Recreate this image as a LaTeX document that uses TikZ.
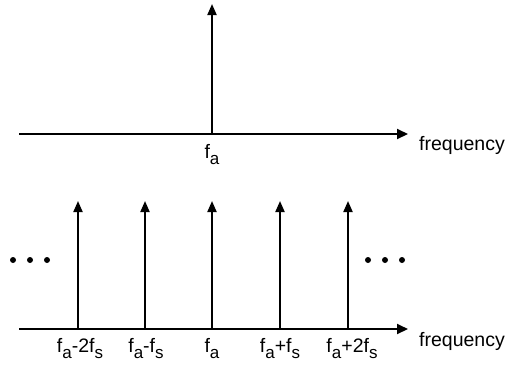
\documentclass[tikz,border=0pt]{standalone}
\usepackage{fontspec}
\setmainfont{Liberation Sans}
\usetikzlibrary{arrows.meta}
\newcommand{\lowsub}[1]{\raisebox{-0.32em}{\fontsize{17}{17}\selectfont #1}}
\tikzset{
  axis/.style={line width=2pt,-{Triangle[length=11pt,width=10pt]}},
  spike/.style={line width=2pt,-{Triangle[length=11pt,width=9pt]}},
  lbl/.style={font=\fontsize{19.5}{19.5}\selectfont,inner sep=0pt},
  dotc/.style={circle,fill=black,inner sep=0pt,minimum size=6pt}
}
\begin{document}
\begin{tikzpicture}[x=1pt,y=-1pt]
\useasboundingbox (0,0) rectangle (508,365);
% top
\coordinate (t0) at (19,134);
\coordinate (t1) at (408,134);
\coordinate (tb) at (212,134);
\coordinate (tt) at (212,4);
\draw[axis] (t0) -- (t1);
\draw[spike] (tb) -- (tt);
\node[lbl,anchor=west] (tf) at (419,145) {frequency};
\node[lbl,anchor=north] (tfa) at (212,144) {f\lowsub{a}};
% bottom
\coordinate (b0) at (19,329);
\coordinate (b1) at (408,329);
\draw[axis] (b0) -- (b1);
\foreach \x/\n in {78/m2,145/m1,212/z,280/p1,348/p2}{
  \coordinate (s\n) at (\x,329);
  \coordinate (e\n) at (\x,201);
  \draw[spike] (s\n) -- (e\n);
}
\node[lbl,anchor=west] (bf) at (419,341) {frequency};
\node[lbl,anchor=north] (lm2) at (80,338) {f\lowsub{a}-2f\lowsub{s}};
\node[lbl,anchor=north] (lm1) at (146,338) {f\lowsub{a}-f\lowsub{s}};
\node[lbl,anchor=north] (lz) at (212,338) {f\lowsub{a}};
\node[lbl,anchor=north] (lp1) at (280,338) {f\lowsub{a}+f\lowsub{s}};
\node[lbl,anchor=north] (lp2) at (352,338) {f\lowsub{a}+2f\lowsub{s}};
\foreach \x/\n in {13/a,30/b,47/c,368/d,385/e,402/f}{
  \node[dotc] (d\n) at (\x,260) {};
}
\end{tikzpicture}
\end{document}
